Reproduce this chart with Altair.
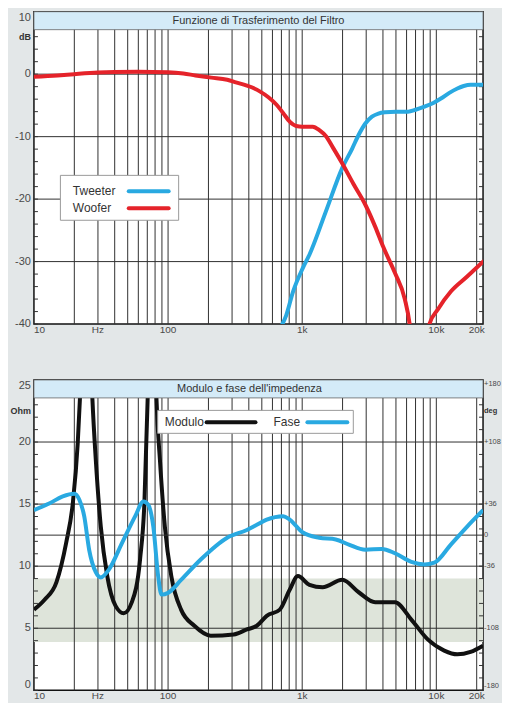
import altair as alt
import pandas as pd

# ---------------- data ----------------
title_top = "Funzione di Trasferimento del Filtro"
title_bottom = "Modulo e fase dell'impedenza"

grid_freqs = [20, 30, 40, 50, 60, 70, 80, 90, 100, 200, 300, 400, 500, 600, 700, 800, 900,
              1000, 2000, 3000, 4000, 5000, 6000, 7000, 8000, 9000, 10000, 20000]
x_first_value, x_first_label = 10, "10"
x_tick_values = [30, 100, 1000, 10000, 20000]
x_tick_labels = ["Hz", "100", "1k", "10k", "20k"]

series_names = ["Tweeter", "Woofer"]
series_colors = ["#29a9e1", "#e5232a"]

woofer_f = [10, 15, 20, 30, 40, 60, 100, 130, 160, 210, 276, 320, 420, 486, 560, 644, 720, 807, 903,
            1000, 1199, 1350, 1500, 1700, 1991, 2400, 2957, 3500, 4010, 4910, 5820, 6325, 6800, 8300,
            8890, 10230, 12830, 16980, 22300]
woofer_db = [-0.4, -0.2, 0.0, 0.25, 0.35, 0.4, 0.3, 0.1, -0.2, -0.55, -0.9, -1.3, -2.1, -2.8, -3.7,
             -4.9, -6.2, -7.6, -8.3, -8.4, -8.4, -9.0, -9.9, -11.8, -14.3, -17.5, -20.9, -24.4, -27.6,
             -31.8, -36.0, -40.0, -47.0, -47.0, -40.0, -37.7, -34.8, -32.4, -30.0]

tweeter_f = [600, 700, 760, 855, 1012, 1132, 1500, 1991, 2360, 2638, 2957, 3311, 3700, 4150, 5000,
             6150, 7000, 8160, 9500, 10820, 12500, 14350, 16000, 17990, 22300]
tweeter_db = [-42.0, -40.3, -38.6, -34.8, -31.0, -28.9, -22.0, -15.0, -11.9, -9.7, -7.9, -6.8, -6.3,
              -6.1, -6.0, -6.0, -5.7, -5.2, -4.6, -3.9, -3.0, -2.3, -1.9, -1.7, -1.7]

db_grid = [0, -10, -20, -30]
db_minor = list(range(-40, 11, 2))
db_top_value, db_top_label = 10, "10"
db_label_values = [0, -10, -20, -30, -40]
db_label_texts = ["0", "-10", "-20", "-30", "-40"]
db_unit_value, db_unit = 6, "dB"

imp_names = ["Modulo", "Fase"]
imp_colors = ["#111111", "#29a9e1"]

mod_f = [10, 12, 14.7, 17.4, 19.5, 21.2, 22, 24.4, 27.3, 28.9, 31.5, 35.2, 40.6, 46.7, 53.7, 61.9,
         66.6, 70.4, 76, 82, 86.9, 94.6, 105.7, 125, 157, 208, 309, 387, 459, 544, 681, 807, 929,
         1132, 1420, 1991, 2638, 3500, 4910, 6510, 8630, 11450, 14350, 18000, 22300]
mod_ohm = [6.5, 7.3, 8.7, 11.9, 15.1, 19.9, 23.4, 40, 23.4, 18.6, 13.2, 9.2, 6.8, 6.2, 7.1, 10.6,
           15.1, 23.4, 40, 23.4, 18.6, 13.2, 9.2, 6.5, 5.2, 4.4, 4.5, 4.9, 5.2, 6.0, 6.5, 8.1, 9.2,
           8.5, 8.3, 8.9, 7.9, 7.1, 7.1, 5.7, 4.1, 3.2, 2.9, 3.1, 3.6]

phase_f = [10, 13.1, 16.4, 20, 21.8, 23.7, 25.8, 28.9, 31.5, 36.2, 45.4, 56.9, 65.5, 71.3, 77.6,
           84.4, 89.3, 100, 125, 176, 276, 387, 459, 544, 721, 807, 1012, 1340, 1778, 2228, 2957,
           3920, 4910, 6510, 8160, 9660, 12830, 16980, 22300]
phase_deg = [29, 37, 45, 48, 41, 22, -17, -43, -49, -40, -9, 22, 39, 35, 10, -48, -69, -67, -52,
             -28, -3, 6, 12, 18, 22, 18, 3, -3, -5, -11, -17, -16, -21, -31, -34, -32, -11, 10, 29]

ohm_grid = [5, 10, 15, 20]
ohm_minor = list(range(0, 26, 1))
ohm_top_value, ohm_top_label = 25, "25"
ohm_bottom_value, ohm_bottom_label = 0, "0"
ohm_label_values = [5, 10, 15, 20]
ohm_label_texts = ["5", "10", "15", "20"]
ohm_unit_value, ohm_unit = 22.5, "Ohm"

phase_grid = [0]
deg_top_value, deg_top_label = 180, "+180"
deg_bottom_value, deg_bottom_label = -180, "-180"
deg_label_values = [108, 36, 0, -36, -108]
deg_label_texts = ["+108", "+36", "0", "-36", "-108"]
deg_unit_value, deg_unit = 144, "deg"

band_low, band_high = 3.9, 9.0

# ---------------- styling ----------------
W, H1, H2 = 450, 313, 311
LEFT = 25
FONT = "Liberation Sans"
LBL = "#4a4a4a"
GRID = "#303030"
BAND_TITLE = "#d4ebf8"

xscale = alt.Scale(type="log", domain=[10, 22300], nice=False)


def xenc(field):
    return alt.X(f"{field}:Q", scale=xscale, axis=None, title=None)


def vgrid(h):
    return alt.Chart(pd.DataFrame({"f": grid_freqs})).mark_rule(color=GRID, strokeWidth=1).encode(
        x=xenc("f"), y=alt.value(0), y2=alt.value(h))


def hrules(vals, yscale, color=GRID):
    return alt.Chart(pd.DataFrame({"v": vals})).mark_rule(color=color, strokeWidth=1).encode(
        y=alt.Y("v:Q", scale=yscale, axis=None), x=alt.value(0), x2=alt.value(W))


def minor_ticks(vals, yscale, x0, x1):
    return alt.Chart(pd.DataFrame({"v": vals})).mark_rule(color="#333", strokeWidth=1).encode(
        y=alt.Y("v:Q", scale=yscale, axis=None), x=alt.value(x0), x2=alt.value(x1))


def ylabels(vals, texts, yscale, x, align, baseline, size=11, weight="normal", color=LBL):
    df = pd.DataFrame({"v": vals, "t": texts})
    return alt.Chart(df).mark_text(font=FONT, fontSize=size, fontWeight=weight, color=color,
                                   align=align, baseline=baseline).encode(
        y=alt.Y("v:Q", scale=yscale, axis=None), x=alt.value(x), text="t:N")


def xlabels(vals, texts, h, align):
    df = pd.DataFrame({"f": vals, "t": texts})
    return alt.Chart(df).mark_text(font=FONT, fontSize=10, color=LBL, align=align,
                                   baseline="top").encode(
        x=xenc("f"), y=alt.value(h + 1), text="t:N")


def spacer(h):
    return alt.Chart(pd.DataFrame({"a": [0]})).mark_rect(opacity=0).encode(
        x=alt.value(-LEFT), x2=alt.value(0), y=alt.value(0), y2=alt.value(h))


def title_band(text, cx):
    df = pd.DataFrame({"t": [text]})
    band = alt.Chart(df).mark_rect(fill=BAND_TITLE, stroke="#666", strokeWidth=0.8).encode(
        x=alt.value(0), x2=alt.value(W), y=alt.value(0), y2=alt.value(18))
    txt = alt.Chart(df).mark_text(font=FONT, fontSize=11, color="#333", baseline="middle",
                                  align="center").encode(text="t:N", x=alt.value(cx), y=alt.value(9.5))
    return [band, txt]


def legend_box(x0, x1, y0, y1):
    return alt.Chart(pd.DataFrame({"a": [0]})).mark_rect(fill="white", stroke="#9a9a9a",
                                                          strokeWidth=1).encode(
        x=alt.value(x0), x2=alt.value(x1), y=alt.value(y0), y2=alt.value(y1))


def legend_item(name, color, tx, ty, lx0, lx1):
    df = pd.DataFrame({"n": [name]})
    t = alt.Chart(df).mark_text(font=FONT, fontSize=12, color="#333", align="left",
                                baseline="middle").encode(text="n:N", x=alt.value(tx), y=alt.value(ty))
    l = alt.Chart(df).mark_rule(color=color, strokeWidth=4, strokeCap="round").encode(
        x=alt.value(lx0), x2=alt.value(lx1), y=alt.value(ty))
    return [t, l]


def xlabel_layers(h):
    return [xlabels([x_first_value], [x_first_label], h, "left"),
            xlabels(x_tick_values, x_tick_labels, h, "center")]


# ---------------- top panel ----------------
yscale_db = alt.Scale(domain=[-40, 10], nice=False, zero=False)

top_df = pd.concat([
    pd.DataFrame({"f": tweeter_f, "db": tweeter_db, "series": series_names[0]}),
    pd.DataFrame({"f": woofer_f, "db": woofer_db, "series": series_names[1]}),
])
top_lines = alt.Chart(top_df).mark_line(strokeWidth=4, clip=True, interpolate="monotone",
                                        strokeCap="round").encode(
    x=xenc("f"), y=alt.Y("db:Q", scale=yscale_db, axis=None),
    color=alt.Color("series:N", scale=alt.Scale(domain=series_names, range=series_colors), legend=None),
    detail="series:N")

top_layers = [spacer(H1), vgrid(H1), hrules(db_grid, yscale_db),
              minor_ticks(db_minor, yscale_db, 0, 4), minor_ticks(db_minor, yscale_db, W - 4, W),
              top_lines,
              ylabels([db_top_value], [db_top_label], yscale_db, -3, "right", "top"),
              ylabels(db_label_values, db_label_texts, yscale_db, -3, "right", "middle"),
              ylabels([db_unit_value], [db_unit], yscale_db, -3, "right", "middle", size=9,
                      weight="bold", color="#333")]
top_layers += xlabel_layers(H1)
top_layers += title_band(title_top, W / 2)
top_layers.append(legend_box(26.5, 145, 164, 209))
top_layers += legend_item(series_names[0], series_colors[0], 39, 180, 95, 135)
top_layers += legend_item(series_names[1], series_colors[1], 39, 197, 95, 135)
top = alt.layer(*top_layers).properties(width=W, height=H1)

# ---------------- bottom panel ----------------
yscale_ohm = alt.Scale(domain=[0, 25], nice=False, zero=False)
yscale_deg = alt.Scale(domain=[-180, 180], nice=False, zero=False)

band = alt.Chart(pd.DataFrame({"lo": [band_low], "hi": [band_high]})).mark_rect(color="#dee4da").encode(
    y=alt.Y("lo:Q", scale=yscale_ohm, axis=None), y2="hi:Q", x=alt.value(0), x2=alt.value(W))

mod_line = alt.Chart(pd.DataFrame({"f": mod_f, "ohm": mod_ohm})).mark_line(
    strokeWidth=4, clip=True, interpolate="monotone", color=imp_colors[0]).encode(
    x=xenc("f"), y=alt.Y("ohm:Q", scale=yscale_ohm, axis=None))

left_group = alt.layer(
    spacer(H2), band, vgrid(H2), hrules(ohm_grid, yscale_ohm),
    minor_ticks(ohm_minor, yscale_ohm, 0, 4), minor_ticks(ohm_minor, yscale_ohm, W - 4, W),
    mod_line,
    ylabels([ohm_top_value], [ohm_top_label], yscale_ohm, -3, "right", "top"),
    ylabels([ohm_bottom_value], [ohm_bottom_label], yscale_ohm, -3, "right", "bottom"),
    ylabels(ohm_label_values, ohm_label_texts, yscale_ohm, -3, "right", "middle"),
    ylabels([ohm_unit_value], [ohm_unit], yscale_ohm, -3, "right", "middle", size=9,
            weight="bold", color="#333"),
    *xlabel_layers(H2))

phase_rule = alt.Chart(pd.DataFrame({"p": phase_grid})).mark_rule(color=GRID, strokeWidth=1).encode(
    y=alt.Y("p:Q", scale=yscale_deg, axis=None), x=alt.value(0), x2=alt.value(W))
phase_line = alt.Chart(pd.DataFrame({"f": phase_f, "deg": phase_deg})).mark_line(
    strokeWidth=4, clip=True, interpolate="monotone", color=imp_colors[1]).encode(
    x=xenc("f"), y=alt.Y("deg:Q", scale=yscale_deg, axis=None))
right_group = alt.layer(
    phase_rule, phase_line,
    ylabels([deg_top_value], [deg_top_label], yscale_deg, W + 1, "left", "top", size=7.5),
    ylabels([deg_bottom_value], [deg_bottom_label], yscale_deg, W + 1, "left", "bottom", size=7.5),
    ylabels(deg_label_values, deg_label_texts, yscale_deg, W + 1, "left", "middle", size=7.5),
    ylabels([deg_unit_value], [deg_unit], yscale_deg, W + 1, "left", "middle", size=7.5,
            weight="bold", color="#333"))

bottom_layers = [left_group, right_group]
bottom_layers += title_band(title_bottom, 216)
bottom_layers.append(legend_box(124, 320, 30.5, 53.5))
bottom_layers += legend_item(imp_names[0], imp_colors[0], 131, 42.5, 173, 222)
bottom_layers += legend_item(imp_names[1], imp_colors[1], 240, 42.5, 274, 314)
bottom = alt.layer(*bottom_layers).resolve_scale(y="independent").properties(width=W, height=H2)

chart = alt.vconcat(top, bottom, spacing=42).properties(
    background="#e3e7e8",
    padding={"left": 0, "top": 1, "right": 0, "bottom": 0},
).configure_view(stroke="#111", strokeWidth=1.5, fill="white")

chart.save("out.html", embed_options={"renderer": "svg", "actions": False})
